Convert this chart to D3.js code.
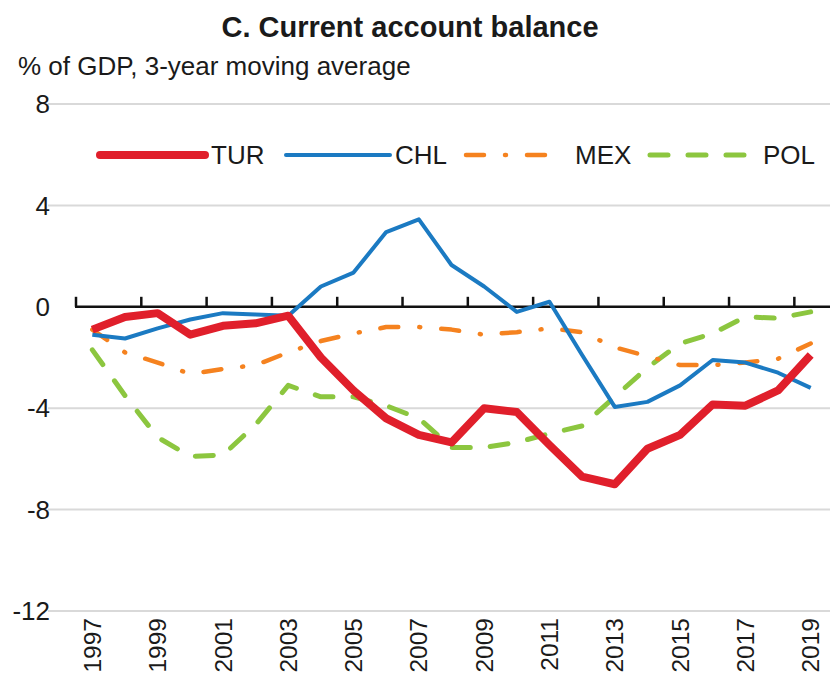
<!DOCTYPE html>
<html>
<head>
<meta charset="utf-8">
<script src="https://cdn.jsdelivr.net/npm/d3@7"></script>
<style>
  body { margin: 0; background: #fff; }
  svg { display: block; }
  text { font-family: "Liberation Sans Narrow", "Arial Narrow", "Liberation Sans", Arial, sans-serif; fill: #1a1a1a; }
</style>
</head>
<body>
<svg id="chart"></svg>
<script>
const years = d3.range(1997, 2020);
const yTicks = [-12, -8, -4, 0, 4, 8];
const xLabels = [1997, 1999, 2001, 2003, 2005, 2007, 2009, 2011, 2013, 2015, 2017, 2019];

const tur = [-0.9, -0.4, -0.25, -1.1, -0.75, -0.65, -0.35, -2.0, -3.3, -4.4, -5.05, -5.35, -4.0, -4.15, -5.45, -6.7, -7.0, -5.6, -5.05, -3.85, -3.9, -3.3, -1.9];
const chl = [-1.1, -1.25, -0.85, -0.5, -0.25, -0.3, -0.35, 0.8, 1.35, 2.95, 3.45, 1.65, 0.8, -0.2, 0.2, -1.9, -3.95, -3.75, -3.1, -2.1, -2.2, -2.6, -3.2];
const mex = [-0.9, -1.8, -2.2, -2.65, -2.45, -2.3, -1.8, -1.35, -1.05, -0.8, -0.8, -0.9, -1.1, -1.0, -0.85, -1.0, -1.6, -1.95, -2.3, -2.3, -2.2, -2.05, -1.45];
const pol = [-1.7, -3.5, -5.15, -5.9, -5.85, -4.65, -3.1, -3.55, -3.55, -3.9, -4.4, -5.55, -5.55, -5.35, -5.0, -4.7, -3.55, -2.4, -1.45, -1.05, -0.4, -0.45, -0.2];

const series = [
    { name: "TUR", values: tur, color: "#e01f2b", width: 8, dash: null },
    { name: "CHL", values: chl, color: "#1b7ac2", width: 4, dash: null },
    { name: "MEX", values: mex, color: "#f5821f", width: 4.5, dash: "18,21,1,21" },
    { name: "POL", values: pol, color: "#8cc63f", width: 5, dash: "18,20" }
];

const width = 830, height = 673;
const svg = d3.select("#chart").attr("width", width).attr("height", height);

const x = d3.scaleBand().domain(years).range([76, 827]).padding(0);
const y = d3.scaleLinear().domain([-12, 8]).range([611, 104]);
const cx = d => x(d) + x.bandwidth() / 2;

// Title and subtitle
svg.append("text")
    .attr("x", 410).attr("y", 37)
    .attr("text-anchor", "middle")
    .style("font-size", "29px").style("font-weight", "bold")
    .text("C. Current account balance");

svg.append("text")
    .attr("x", 18).attr("y", 75)
    .style("font-size", "26px")
    .text("% of GDP, 3-year moving average");

// Gridlines
svg.append("g")
    .selectAll("line")
    .data(yTicks.filter(t => t !== 0))
    .join("line")
    .attr("x1", 48).attr("x2", 830)
    .attr("y1", d => y(d)).attr("y2", d => y(d))
    .attr("stroke", "#d9d9d9")
    .attr("stroke-width", 2);

// Y labels
svg.append("g")
    .selectAll("text")
    .data(yTicks)
    .join("text")
    .attr("x", 50)
    .attr("y", d => y(d))
    .attr("dy", "0.35em")
    .attr("text-anchor", "end")
    .style("font-size", "26px")
    .text(d => d);

// Zero axis with ticks at every other year boundary
const zeroY = y(0);
svg.append("line")
    .attr("x1", 75).attr("x2", 830)
    .attr("y1", zeroY).attr("y2", zeroY)
    .attr("stroke", "#111")
    .attr("stroke-width", 2.5);

svg.append("g")
    .selectAll("line")
    .data(xLabels)
    .join("line")
    .attr("x1", d => x(d)).attr("x2", d => x(d))
    .attr("y1", zeroY).attr("y2", zeroY - 10)
    .attr("stroke", "#111")
    .attr("stroke-width", 2.5);

// X labels, rotated
svg.append("g")
    .selectAll("text")
    .data(xLabels)
    .join("text")
    .attr("transform", d => `translate(${cx(d)},618) rotate(-90)`)
    .attr("dy", "0.35em")
    .attr("text-anchor", "end")
    .style("font-size", "24.5px")
    .text(d => d);

// Lines
const line = d3.line()
    .x((v, i) => cx(years[i]))
    .y(v => y(v));

svg.append("g")
    .selectAll("path")
    .data(series.slice().reverse())
    .join("path")
    .attr("d", d => line(d.values))
    .attr("fill", "none")
    .attr("stroke", d => d.color)
    .attr("stroke-width", d => d.width)
    .attr("stroke-dasharray", d => d.dash)
    .attr("stroke-linecap", d => d.dash ? "round" : "butt")
    .attr("stroke-linejoin", "round");

// Legend
const legendPos = [
    { x1: 100, x2: 205, tx: 211 },
    { x1: 286, x2: 390, tx: 395 },
    { x1: 466, x2: 560, tx: 575 },
    { x1: 650, x2: 758, tx: 763 }
];
const legendY = 155;
const legend = svg.append("g")
    .selectAll("g")
    .data(series)
    .join("g");

legend.append("line")
    .attr("x1", (d, i) => legendPos[i].x1)
    .attr("x2", (d, i) => legendPos[i].x2)
    .attr("y1", legendY).attr("y2", legendY)
    .attr("stroke", d => d.color)
    .attr("stroke-width", d => d.width)
    .attr("stroke-dasharray", d => d.dash)
    .attr("stroke-linecap", "round");

legend.append("text")
    .attr("x", (d, i) => legendPos[i].tx)
    .attr("y", legendY)
    .attr("dy", "0.35em")
    .style("font-size", "26px")
    .text(d => d.name);
</script>
</body>
</html>
